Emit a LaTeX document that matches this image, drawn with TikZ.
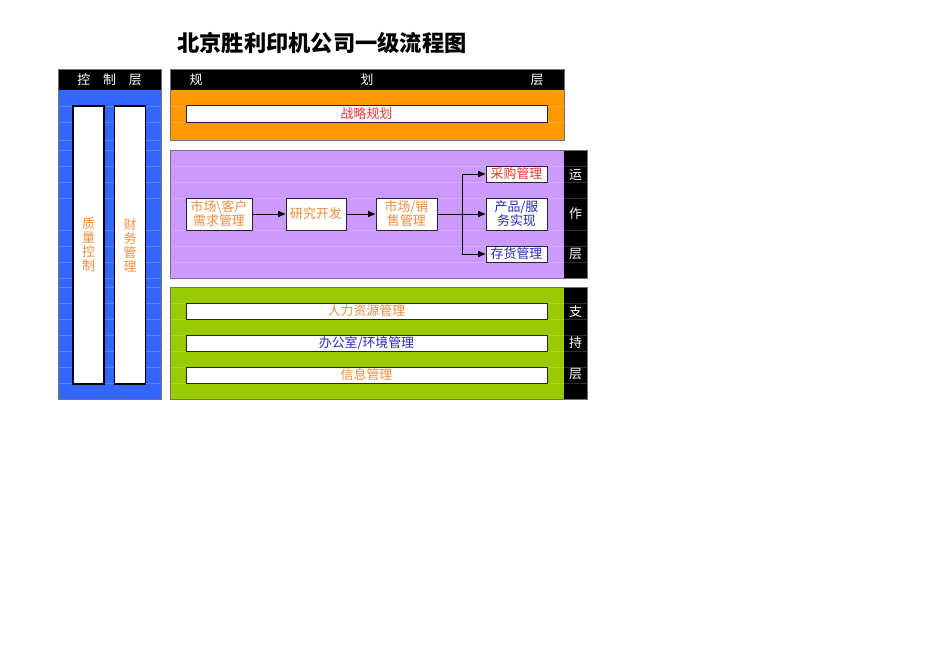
\documentclass[tikz,border=0pt]{standalone}
\usepackage{fontspec}
\newfontfamily\cjk{Noto Sans CJK SC}
\usetikzlibrary{arrows.meta}
\definecolor{ctrlblue}{RGB}{51,102,255}
\definecolor{planorange}{RGB}{255,153,0}
\definecolor{oppurple}{RGB}{204,153,255}
\definecolor{supgreen}{RGB}{153,204,0}
\definecolor{txtorange}{RGB}{245,140,60}
\definecolor{txtred}{RGB}{240,50,50}
\definecolor{txtblue}{RGB}{40,40,200}
\tikzset{
  layerline/.style={draw=black!55, line width=0.25mm},
  gridline/.style={white, opacity=0.18, line width=0.2mm},
  headtext/.style={text=white, inner sep=0pt},
  wbox/.style={draw=black!85, fill=white, line width=0.3mm, inner sep=0pt, align=center},
  bar/.style={draw=black!90!blue, fill=white, line width=0.4mm, inner sep=0pt,
    minimum width=9.3mm, minimum height=83.4mm, align=center, text=txtorange},
  flow/.style={-{Triangle[length=2.2mm,width=1.8mm]}, line width=0.3mm}
}
\begin{document}
\begin{tikzpicture}[x=0.3mm,y=-0.3mm]
\useasboundingbox (0,0) rectangle (950,672);
{\cjk\fontsize{11}{12}\selectfont

% Title
\node (title) at (322,43) {\fontsize{19}{19}\selectfont\bfseries 北京胜利印机公司一级流程图};

% Drawing control layer
\fill[ctrlblue] (58,90) rectangle (161,399);
\fill[black] (58,69) rectangle (161,90);
\foreach \y in {106,122,140,150,166,182,198,230,246,262,278,287,303,319,335,351,367,383}
  \draw[gridline] (58,\y) -- (161,\y);
\draw[layerline] (58,69) rectangle (161,399);
\node[headtext] (ctrlhead) at (109.5,79.5) {控\quad 制\quad 层};
\node[bar] (qcbar) at (88.5,245) {质\\量\\控\\制};
\node[bar] (finbar) at (130,245) {财\\务\\管\\理};

% Drawing planning layer
\fill[planorange] (170,90) rectangle (564,140);
\fill[black] (170,69) rectangle (564,90);
\foreach \y in {106,122}
  \draw[gridline] (170,\y) -- (564,\y);
\draw[layerline] (170,69) rectangle (564,140);
\node[headtext] (planA) at (196,79.5) {规};
\node[headtext] (planB) at (367,79.5) {划};
\node[headtext] (planC) at (537,79.5) {层};
\node[wbox, minimum width=108.3mm, minimum height=4.8mm, text=txtred] (strategy) at (366.5,114) {战略规划};

% Drawing operation layer
\fill[oppurple] (170,150) rectangle (564,278);
\fill[black] (564,150) rectangle (587,278);
\foreach \y in {166,182,198,230,246,262}
  \draw[gridline] (170,\y) -- (587,\y);
\draw[layerline] (170,150) rectangle (587,278);
\node[headtext] (opA) at (575.5,175) {运};
\node[headtext] (opB) at (575.5,214) {作};
\node[headtext] (opC) at (575.5,254) {层};

\node[wbox, minimum width=19.8mm, minimum height=9.6mm, text=txtorange] (demand) at (219,214) {市场\textbackslash 客户\\需求管理};
\node[wbox, minimum width=18mm, minimum height=9.6mm, text=txtorange] (research) at (316,214) {研究开发};
\node[wbox, minimum width=18.3mm, minimum height=9.6mm, text=txtorange] (sales) at (406.5,214) {市场/销\\售管理};
\node[wbox, minimum width=18.3mm, minimum height=4.8mm, text=txtred] (purchase) at (516.5,174) {采购管理};
\node[wbox, minimum width=18.3mm, minimum height=9.6mm, text=txtblue] (product) at (516.5,214) {产品/服\\务实现};
\node[wbox, minimum width=18.3mm, minimum height=4.8mm, text=txtblue] (stock) at (516.5,254) {存货管理};

% Drawing flow arrows
\coordinate (fork) at (462,214);
\draw[flow] (demand) -- (research);
\draw[flow] (research) -- (sales);
\draw[flow] (sales) -- (product);
\draw[flow] (fork) |- (purchase);
\draw[flow] (fork) |- (stock);

% Drawing support layer
\fill[supgreen] (170,287) rectangle (564,399);
\fill[black] (564,287) rectangle (587,399);
\foreach \y in {303,319,335,351,367,383}
  \draw[gridline] (170,\y) -- (587,\y);
\draw[layerline] (170,287) rectangle (587,399);
\node[headtext] (supA) at (575.5,312) {支};
\node[headtext] (supB) at (575.5,343) {持};
\node[headtext] (supC) at (575.5,374) {层};

\node[wbox, minimum width=108.3mm, minimum height=4.8mm, text=txtorange] (hr) at (366.5,311) {人力资源管理};
\node[wbox, minimum width=108.3mm, minimum height=4.8mm, text=txtblue] (office) at (366.5,343) {办公室/环境管理};
\node[wbox, minimum width=108.3mm, minimum height=4.8mm, text=txtorange] (info) at (366.5,375) {信息管理};
}
\end{tikzpicture}
\end{document}
